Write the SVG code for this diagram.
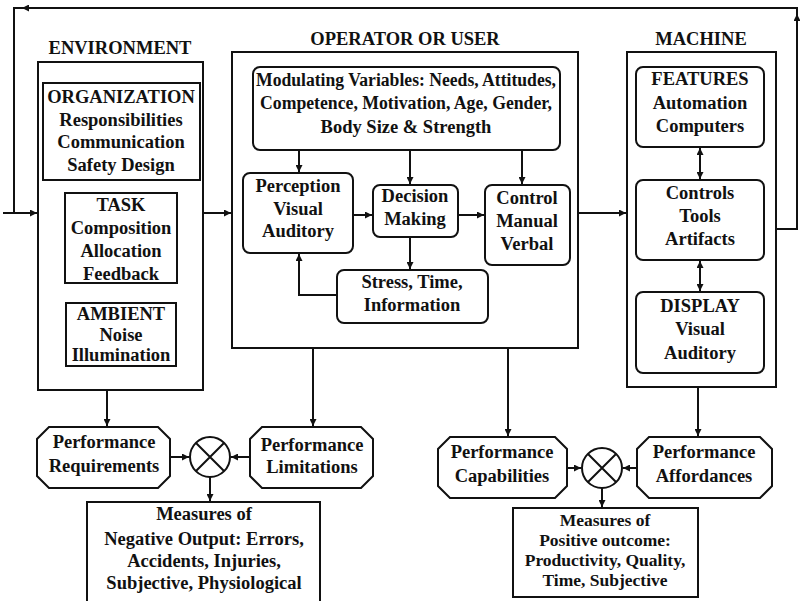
<svg xmlns="http://www.w3.org/2000/svg" width="800" height="601" viewBox="0 0 800 601">
<defs>
<marker id="ah" viewBox="0 0 10 10" refX="10" refY="5" markerWidth="7" markerHeight="7" markerUnits="userSpaceOnUse" orient="auto">
<path d="M0,0 L10,5 L0,10 z" fill="#111"/>
</marker>
<style>
text{font-family:"Liberation Serif","DejaVu Serif",serif;font-weight:bold;font-size:18.5px;fill:#111;text-anchor:middle}
.s{font-size:17.5px}
.b{fill:#fff;stroke:#111;stroke-width:2}
.c{fill:none;stroke:#111;stroke-width:2}
.m{marker-end:url(#ah)}
</style>
</defs>
<rect width="800" height="601" fill="#fff"/>

<g id="environment">
<text x="120" y="54">ENVIRONMENT</text>
<rect class="b" x="38" y="62" width="165" height="328"/>
</g>
<g id="organization">
<rect class="b" x="43" y="83" width="157" height="97"/>
<text x="121" y="103">ORGANIZATION</text>
<text x="121" y="126">Responsibilities</text>
<text x="121" y="148">Communication</text>
<text x="121" y="171">Safety Design</text>
</g>
<g id="task">
<rect class="b" x="65" y="193" width="112" height="90"/>
<text x="121" y="211">TASK</text>
<text x="121" y="234">Composition</text>
<text x="121" y="257">Allocation</text>
<text x="121" y="280">Feedback</text>
</g>
<g id="ambient">
<rect class="b" x="66" y="303" width="110" height="63"/>
<text x="121" y="320">AMBIENT</text>
<text x="121" y="341">Noise</text>
<text x="121" y="361">Illumination</text>
</g>

<g id="operator">
<text x="405" y="45">OPERATOR OR USER</text>
<rect class="b" x="232" y="52" width="346" height="296"/>
</g>
<g id="modulating">
<rect class="b" x="253" y="67" width="307" height="83" rx="7"/>
<text x="406" y="86" textLength="300" lengthAdjust="spacingAndGlyphs">Modulating Variables: Needs, Attitudes,</text>
<text x="406" y="109" textLength="292" lengthAdjust="spacingAndGlyphs">Competence, Motivation, Age, Gender,</text>
<text x="406" y="133">Body Size &amp; Strength</text>
</g>
<g id="perception">
<rect class="b" x="243" y="173" width="110" height="80" rx="7"/>
<text x="298" y="192">Perception</text>
<text x="298" y="215">Visual</text>
<text x="298" y="237">Auditory</text>
</g>
<g id="decision">
<rect class="b" x="373" y="185" width="85" height="52" rx="7"/>
<text x="415" y="202">Decision</text>
<text x="415" y="225">Making</text>
</g>
<g id="control">
<rect class="b" x="485" y="185" width="85" height="80" rx="7"/>
<text x="527" y="204">Control</text>
<text x="527" y="227">Manual</text>
<text x="527" y="250">Verbal</text>
</g>
<g id="stress">
<rect class="b" x="337" y="270" width="151" height="53" rx="7"/>
<text x="412" y="288">Stress, Time,</text>
<text x="412" y="311">Information</text>
</g>

<g id="machine">
<text x="701" y="45">MACHINE</text>
<rect class="b" x="627" y="52" width="149" height="335"/>
</g>
<g id="features">
<rect class="b" x="636" y="67" width="128" height="80" rx="7"/>
<text x="700" y="85">FEATURES</text>
<text x="700" y="109">Automation</text>
<text x="700" y="132">Computers</text>
</g>
<g id="controls">
<rect class="b" x="636" y="180" width="128" height="80" rx="7"/>
<text x="700" y="199">Controls</text>
<text x="700" y="222">Tools</text>
<text x="700" y="245">Artifacts</text>
</g>
<g id="display">
<rect class="b" x="636" y="292" width="128" height="81" rx="7"/>
<text x="700" y="312">DISPLAY</text>
<text x="700" y="335">Visual</text>
<text x="700" y="359">Auditory</text>
</g>

<g id="perf-requirements">
<polygon class="b" points="49,427 158,427 170,439 170,476 158,488 49,488 37,476 37,439"/>
<text x="104" y="448">Performance</text>
<text x="104" y="472">Requirements</text>
</g>
<g id="compare-negative">
<circle class="b" cx="210" cy="457" r="20"/>
<path class="c" d="M196,443 L224,471 M224,443 L196,471"/>
</g>
<g id="perf-limitations">
<polygon class="b" points="262,427 361,427 373,439 373,476 361,488 262,488 250,476 250,439"/>
<text x="312" y="451">Performance</text>
<text x="312" y="473">Limitations</text>
</g>
<g id="measures-negative">
<rect class="b" x="87" y="502" width="233" height="104"/>
<text x="204" y="520">Measures of</text>
<text x="204" y="545">Negative Output: Errors,</text>
<text x="204" y="567">Accidents, Injuries,</text>
<text x="204" y="589">Subjective, Physiological</text>
</g>

<g id="perf-capabilities">
<polygon class="b" points="450,437 555,437 567,449 567,486 555,498 450,498 438,486 438,449"/>
<text x="502" y="458">Performance</text>
<text x="502" y="482">Capabilities</text>
</g>
<g id="compare-positive">
<circle class="b" cx="602" cy="468" r="20"/>
<path class="c" d="M588,454 L616,482 M616,454 L588,482"/>
</g>
<g id="perf-affordances">
<polygon class="b" points="649,437 760,437 772,449 772,486 760,498 649,498 637,486 637,449"/>
<text x="704" y="458">Performance</text>
<text x="704" y="482">Affordances</text>
</g>
<g id="measures-positive">
<rect class="b" x="513" y="508" width="185" height="89"/>
<text class="s" x="605" y="526">Measures of</text>
<text class="s" x="605" y="546">Positive outcome:</text>
<text class="s" x="605" y="566">Productivity, Quality,</text>
<text class="s" x="605" y="586">Time, Subjective</text>
</g>

<g id="connectors">
<polyline class="c" points="776,229 797,229 797,8 14,8 14,213"/>
<line class="c" x1="3" y1="213" x2="14" y2="213"/>
<path class="c m" d="M30,8 L22,8"/>
<path class="c m" d="M797,26 L797,14"/>
<path class="c m" d="M14,213 L37,213"/>
<path class="c m" d="M203,213 L231,213"/>
<path class="c m" d="M578,213 L626,213"/>
<path class="c m" d="M299,150 L299,172"/>
<path class="c m" d="M410,150 L410,184"/>
<path class="c m" d="M522,150 L522,184"/>
<path class="c m" d="M353,215 L372,215"/>
<path class="c m" d="M458,215 L484,215"/>
<path class="c m" d="M410,237 L410,269"/>
<path class="c m" d="M337,295 L299,295 L299,254"/>
<line class="c" x1="700" y1="147" x2="700" y2="180"/>
<path class="c m" d="M700,160 L700,148"/>
<path class="c m" d="M700,167 L700,179"/>
<line class="c" x1="700" y1="260" x2="700" y2="292"/>
<path class="c m" d="M700,273 L700,261"/>
<path class="c m" d="M700,279 L700,291"/>
<path class="c m" d="M107,390 L107,426"/>
<path class="c m" d="M313,348 L313,426"/>
<path class="c m" d="M170,457 L189,457"/>
<path class="c m" d="M250,457 L231,457"/>
<path class="c m" d="M210,477 L210,501"/>
<path class="c m" d="M508,348 L508,436"/>
<path class="c m" d="M698,387 L698,436"/>
<path class="c m" d="M567,468 L581,468"/>
<path class="c m" d="M637,468 L623,468"/>
<path class="c m" d="M602,488 L602,507"/>
</g>
</svg>
